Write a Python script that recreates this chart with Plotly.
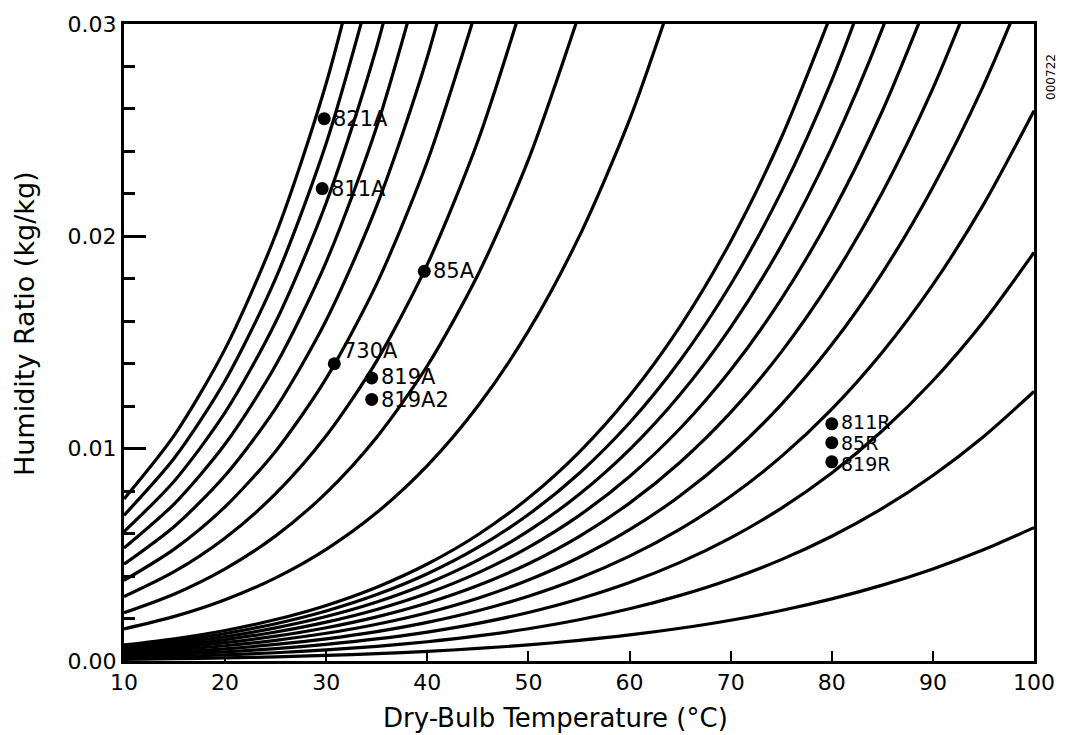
import plotly.graph_objects as go

# Dry-bulb temperature grid (°C) shared by all curves
T_GRID = [10, 15, 20, 25, 30, 35, 40, 45, 50, 55, 60, 65, 70, 75, 80, 85, 90, 95, 100]

# Humidity ratio (kg/kg) along each relative-humidity curve
W_RH100 = [0.007632, 0.010651, 0.014699, 0.020087, 0.027211, 0.036588]
W_RH90 = [0.006861, 0.009569, 0.013198, 0.018020, 0.024383, 0.032736]
W_RH80 = [0.006091, 0.008491, 0.011704, 0.015966, 0.021580, 0.028930, 0.038513]
W_RH70 = [0.005323, 0.007417, 0.010217, 0.013926, 0.018801, 0.025167, 0.033441]
W_RH60 = [0.004557, 0.006347, 0.008737, 0.011898, 0.016046, 0.021448, 0.028445, 0.037470]
W_RH50 = [0.003793, 0.005280, 0.007264, 0.009884, 0.013314, 0.017771, 0.023525, 0.030915]
W_RH40 = [0.003031, 0.004217, 0.005797, 0.007882, 0.010606, 0.014136, 0.018678, 0.024489, 0.031885]
W_RH30 = [0.002270, 0.003157, 0.004338, 0.005893, 0.007921, 0.010542, 0.013904, 0.018187, 0.023611, 0.030450]
W_RH20 = [0.001512, 0.002101, 0.002885, 0.003916, 0.005258, 0.006989, 0.009201, 0.012008, 0.015544,
          0.019974, 0.025493, 0.032345]
W_RH10 = [0.000755, 0.001049, 0.001439, 0.001952, 0.002618, 0.003475, 0.004567, 0.005947, 0.007676,
          0.009829, 0.012491, 0.015763, 0.019762, 0.024632, 0.030536]
W_RH9 = [0.000679, 0.000944, 0.001295, 0.001756, 0.002355, 0.003126, 0.004107, 0.005347, 0.006900,
         0.008832, 0.011219, 0.014151, 0.017730, 0.022081, 0.027348, 0.033703]
W_RH8 = [0.000604, 0.000839, 0.001151, 0.001561, 0.002093, 0.002777, 0.003648, 0.004748, 0.006126,
         0.007839, 0.009953, 0.012547, 0.015710, 0.019551, 0.024191, 0.029779, 0.036488]
W_RH7 = [0.000528, 0.000734, 0.001007, 0.001365, 0.001830, 0.002428, 0.003190, 0.004151, 0.005354,
         0.006848, 0.008691, 0.010950, 0.013703, 0.017040, 0.021065, 0.025902, 0.031695]
W_RH6 = [0.000453, 0.000629, 0.000863, 0.001170, 0.001568, 0.002080, 0.002732, 0.003554, 0.004583,
         0.005861, 0.007435, 0.009363, 0.011709, 0.014548, 0.017969, 0.022070, 0.026971, 0.032807]
W_RH5 = [0.000377, 0.000524, 0.000719, 0.000974, 0.001306, 0.001733, 0.002275, 0.002959, 0.003815,
         0.004876, 0.006183, 0.007783, 0.009727, 0.012077, 0.014902, 0.018284, 0.022314, 0.027101, 0.032737]
W_RH4 = [0.000302, 0.000419, 0.000575, 0.000779, 0.001045, 0.001385, 0.001819, 0.002365, 0.003048,
         0.003895, 0.004937, 0.006211, 0.007757, 0.009624, 0.011865, 0.014542, 0.017724, 0.021493, 0.025917]
W_RH3 = [0.000226, 0.000314, 0.000431, 0.000584, 0.000783, 0.001038, 0.001363, 0.001772, 0.002283,
         0.002917, 0.003695, 0.004646, 0.005800, 0.007190, 0.008856, 0.010843, 0.013199, 0.015982, 0.019237]
W_RH2 = [0.000151, 0.000210, 0.000287, 0.000389, 0.000522, 0.000692, 0.000908, 0.001180, 0.001520,
         0.001941, 0.002459, 0.003090, 0.003854, 0.004775, 0.005876, 0.007187, 0.008738, 0.010564, 0.012694]
W_RH1 = [0.000075, 0.000105, 0.000144, 0.000195, 0.000261, 0.000346, 0.000454, 0.000590, 0.000759,
         0.000969, 0.001227, 0.001541, 0.001921, 0.002378, 0.002924, 0.003573, 0.004338, 0.005238, 0.006283]

CURVES = [W_RH100, W_RH90, W_RH80, W_RH70, W_RH60, W_RH50, W_RH40, W_RH30, W_RH20, W_RH10,
          W_RH9, W_RH8, W_RH7, W_RH6, W_RH5, W_RH4, W_RH3, W_RH2, W_RH1]

# Measured sample points
PT_LABELS = ["821A", "811A", "85A", "730A", "819A", "819A2", "811R", "85R", "819R"]
PT_TEMP = [29.8, 29.6, 39.7, 30.8, 34.5, 34.5, 80.0, 80.0, 80.0]
PT_W = [0.02554, 0.02225, 0.01835, 0.01400, 0.01333, 0.01232, 0.01117, 0.01028, 0.00938]
PT_YSHIFT = [0, 0, 0, 13, 1, -1, 2, 0, -2]
PT_SIZE = [21, 21, 21, 21, 21, 21, 19, 19, 19]

X_TICKS = [10, 20, 30, 40, 50, 60, 70, 80, 90, 100]
Y_TICKS = [0.0, 0.01, 0.02, 0.03]
Y_TICKTEXT = ["0.00", "0.01", "0.02", "0.03"]
X_TITLE = "Dry-Bulb Temperature (°C)"
Y_TITLE = "Humidity Ratio (kg/kg)"

FONT = "DejaVu Sans, Arial, sans-serif"
W_PX, H_PX = 1068, 735

fig = go.Figure()
for w in CURVES:
    fig.add_trace(go.Scatter(
        x=T_GRID[:len(w)], y=w, mode="lines",
        line=dict(color="black", width=3.2, shape="spline", smoothing=0.8),
        hoverinfo="skip",
    ))

fig.add_trace(go.Scatter(
    x=PT_TEMP, y=PT_W, mode="markers",
    marker=dict(color="black", size=13),
    hoverinfo="skip",
))

for lab, t, w, ys, fs in zip(PT_LABELS, PT_TEMP, PT_W, PT_YSHIFT, PT_SIZE):
    fig.add_annotation(
        x=t, y=w, text=lab, showarrow=False, xanchor="left", yanchor="middle",
        xshift=7, yshift=ys, font=dict(family=FONT, size=fs, color="black"),
    )

# Axis titles placed as in the original figure (slightly off-centre)
fig.add_annotation(
    xref="paper", yref="paper", x=(555 - 124) / 910, y=-(718 - 661) / 639,
    text=X_TITLE, showarrow=False, xanchor="center", yanchor="middle",
    font=dict(family=FONT, size=26, color="black"),
)
fig.add_annotation(
    xref="paper", yref="paper", x=-(124 - 24) / 910, y=(661 - 323) / 639,
    text=Y_TITLE, showarrow=False, xanchor="center", yanchor="middle", textangle=-90,
    font=dict(family=FONT, size=27, color="black"),
)
fig.add_annotation(
    xref="paper", yref="paper", x=(1060 - 124) / 910, y=1 - (50 - 22) / 639,
    text="000722", showarrow=False, textangle=-90,
    font=dict(family=FONT, size=12, color="black"),
)

fig.update_layout(
    width=W_PX, height=H_PX,
    margin=dict(l=124, r=34, t=22, b=74),
    plot_bgcolor="white", paper_bgcolor="white",
    showlegend=False,
    font=dict(family=FONT, color="black"),
)
fig.update_xaxes(
    range=[10, 100], tickvals=X_TICKS, ticks="inside", ticklen=10, tickwidth=2,
    tickcolor="black", showline=True, linewidth=3, linecolor="black", mirror=True,
    showgrid=False, zeroline=False, tickfont=dict(family=FONT, size=22),
)
fig.update_yaxes(
    range=[0, 0.03], tickvals=Y_TICKS, ticktext=Y_TICKTEXT, ticks="inside", ticklen=22,
    tickwidth=3, tickcolor="black", showline=True, linewidth=3, linecolor="black",
    mirror=True, showgrid=False, zeroline=False, tickfont=dict(family=FONT, size=22),
    minor=dict(dtick=0.002, ticks="inside", ticklen=11, tickwidth=3, tickcolor="black", showgrid=False),
)

fig.write_html("out.html")
